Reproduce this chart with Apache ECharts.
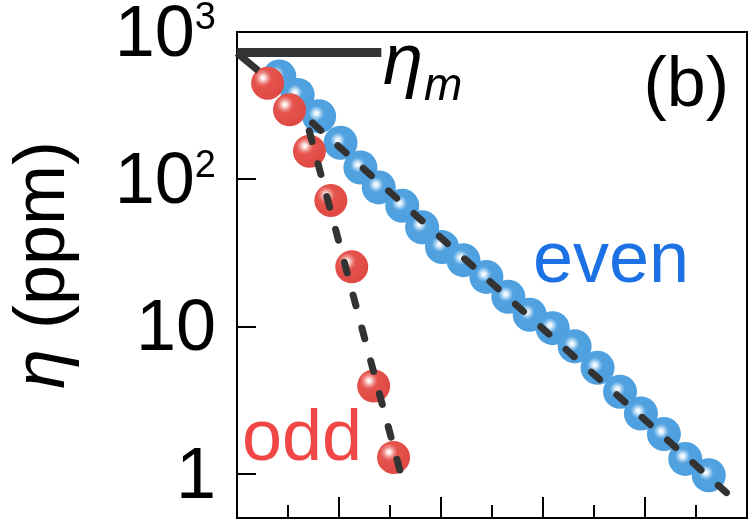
<!DOCTYPE html>
<html>
<head>
<meta charset="utf-8">
<script src="https://cdn.jsdelivr.net/npm/echarts@6/dist/echarts.min.js"></script>
<style>
html,body{margin:0;padding:0;background:#fff;}
#c{width:748px;height:520px;}
</style>
</head>
<body>
<div id="c"></div>
<script>
// ---- data (x in axis units, tick spacing = 1) ----
var evenX = [0.83, 1.19, 1.61, 2.03, 2.42, 2.78, 3.24, 3.63, 4.02, 4.44, 4.89, 5.32, 5.74, 6.19, 6.62, 7.07, 7.51, 7.92, 8.37, 8.79, 9.25];
var evenY = [498, 374, 268, 177, 120, 88, 66, 47.2, 34.6, 28.2, 21.7, 15.9, 12.0, 9.74, 7.33, 5.24, 3.60, 2.56, 1.86, 1.26, 0.975];
var oddX = [0.60, 1.03, 1.42, 1.84, 2.25, 2.68, 3.07];
var oddY = [449, 296, 155, 71.8, 25.4, 3.94, 1.29];
var evenFitX = [1.48, 9.80];
var evenFitY = [241, 0.643];
var evenTopX = [0, 0.42];
var evenTopY = [720, 545];
var oddFitX = [1.417, 3.236];
var oddFitY = [213, 0.929];
var etaMX = [0, 2.83];
var etaMY = [726, 726];
var yTicks = [1, 10, 100, 1000];
var yTickLabels = ['1', '10', '{b|10}{s|2}', '{b|10}{s|3}'];

function pairs(xs, ys) { return xs.map(function (x, i) { return [x, ys[i]]; }); }

var FONT = 'Liberation Sans, Arial, sans-serif';
var redGrad = { type: 'radial', x: 0.36, y: 0.34, r: 0.62, colorStops: [
  { offset: 0, color: '#ffffff' }, { offset: 0.1, color: '#fde6e5' },
  { offset: 0.26, color: '#ee8a85' }, { offset: 0.42, color: '#e5534d' }, { offset: 1, color: '#e04a44' }] };
var blueGrad = { type: 'radial', x: 0.42, y: 0.42, r: 0.55, colorStops: [
  { offset: 0, color: '#ffffff' }, { offset: 0.1, color: '#e8f3fc' },
  { offset: 0.26, color: '#92c6ee' }, { offset: 0.4, color: '#52a2e0' }, { offset: 1, color: '#4d9fdf' }] };

var chart = echarts.init(document.getElementById('c'), null, { renderer: 'canvas' });
var option = {
  animation: false,
  backgroundColor: '#ffffff',
  grid: { left: 234, top: 29, right: 1, bottom: 2, show: true, borderColor: '#000', borderWidth: 2, backgroundColor: 'transparent' },
  xAxis: {
    type: 'value', min: 0, max: 10, interval: 2,
    axisLine: { show: true, onZero: false, lineStyle: { color: '#000', width: 2 } },
    axisTick: { show: true, inside: true, length: 21, lineStyle: { color: '#000', width: 2 } },
    minorTick: { show: true, splitNumber: 2, length: 13, lineStyle: { color: '#000', width: 2 } },
    axisLabel: { show: false },
    splitLine: { show: false }
  },
  yAxis: {
    type: 'log', logBase: 10, min: 0.5, max: 1000,
    axisLine: { show: true, lineStyle: { color: '#000', width: 2 } },
    axisTick: { show: true, inside: true, length: 19, lineStyle: { color: '#000', width: 2 } },
    splitLine: { show: false },
    axisLabel: {
      margin: 21, color: '#000', fontFamily: FONT, fontSize: 72,
      showMinLabel: true, showMaxLabel: true, padding: [8, 0, 0, 0],
      formatter: function (v) {
        for (var i = 0; i < yTicks.length; i++) {
          if (Math.abs(v - yTicks[i]) / yTicks[i] < 1e-6) return yTickLabels[i];
        }
        return '';
      },
      rich: {
        b: { fontFamily: FONT, fontSize: 72, color: '#000' },
        s: { fontFamily: FONT, fontSize: 38, color: '#000', verticalAlign: 'top', padding: [0, 0, 26, 0] }
      }
    },
    name: '{i|η} (ppm)',
    nameLocation: 'middle', nameRotate: 90, nameGap: 157,
    nameTextStyle: {
      fontFamily: FONT, fontSize: 72, color: '#000', padding: [0, 0, 0, 20],
      rich: { i: { fontFamily: FONT, fontSize: 72, fontStyle: 'italic', color: '#000' } }
    }
  },
  series: [
    { type: 'scatter', name: 'even', z: 2, data: pairs(evenX, evenY), symbol: 'circle', symbolSize: 34,
      itemStyle: { color: blueGrad, opacity: 1 } },
    { type: 'scatter', name: 'odd', z: 3, data: pairs(oddX, oddY), symbol: 'circle', symbolSize: 33,
      itemStyle: { color: redGrad, opacity: 1 } },
    { type: 'line', z: 4, data: pairs(evenFitX, evenFitY), showSymbol: false, symbol: 'none',
      lineStyle: { color: '#333', width: 7, type: [11, 23], cap: 'round' } },
    { type: 'line', z: 4, data: pairs(oddFitX, oddFitY), showSymbol: false, symbol: 'none',
      lineStyle: { color: '#333', width: 7, type: [11, 23], cap: 'round' } },
    { type: 'line', z: 4, data: pairs(evenTopX, evenTopY), showSymbol: false, symbol: 'none',
      lineStyle: { color: '#333', width: 7, type: 'solid', cap: 'butt' } },
    { type: 'line', z: 4, data: pairs(etaMX, etaMY), showSymbol: false, symbol: 'none',
      lineStyle: { color: '#333', width: 9, type: 'solid', cap: 'butt' } }
  ],
  graphic: [
    { type: 'text', left: 383, top: 28, z: 10, style: { text: 'η', fontFamily: FONT, fontSize: 72, fontStyle: 'italic', fill: '#000' } },
    { type: 'text', left: 424, top: 64, z: 10, style: { text: 'm', fontFamily: FONT, fontSize: 46, fontStyle: 'italic', fill: '#000' } },
    { type: 'text', right: 19, top: 52, z: 10, style: { text: '(b)', fontFamily: FONT, fontSize: 70, fill: '#000' } },
    { type: 'text', left: 533, top: 226, z: 10, style: { text: 'even', fontFamily: FONT, fontSize: 72, fill: '#1c72e4' } },
    { type: 'text', left: 242, top: 404, z: 10, style: { text: 'odd', fontFamily: FONT, fontSize: 72, fill: '#f04646' } }
  ]
};
chart.setOption(option);
</script>
</body>
</html>
